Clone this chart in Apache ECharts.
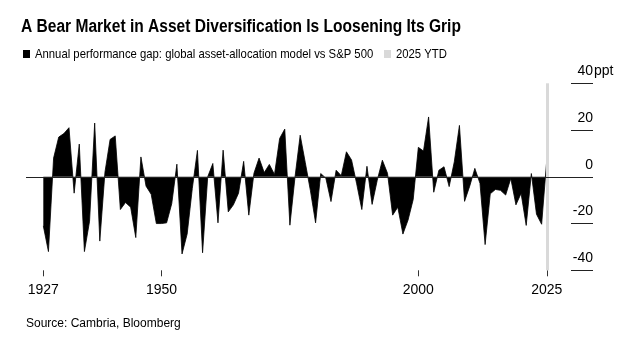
<!DOCTYPE html>
<html>
<head>
<meta charset="utf-8">
<script src="https://cdn.jsdelivr.net/npm/echarts@6/dist/echarts.min.js"></script>
<style>
  html, body { margin: 0; padding: 0; background: #fff; }
  #chart { width: 639px; height: 349px; }
</style>
</head>
<body>
<div id="chart"></div>
<script>
// Annual performance gap (ppt): global asset-allocation model minus S&P 500
const years = [];
for (let y = 1927; y <= 2025; y++) years.push(y);

const gap = [
  -21, -32, 8, 17, 18.5, 21, -7, 14, -32, -19,          // 1927-1936
  23, -27.5, 2, 16, 17.5, -14, -11, -13, -26, 8.5,      // 1937-1946
  -4, -7.5, -20, -20, -19.7, -11.5, 5.4, -33, -24.5, -5, // 1947-1956
  11.3, -32.5, 0, 5.7, -19.7, 11.4, -15, -12, -7, 6.6,  // 1957-1966
  -16.4, 1.5, 8, 1.8, 5.3, 1, 16.4, 20.4, -20.7, 0,     // 1967-1976
  17.8, 6, -6, -19.7, 1.4, -0.6, -10.6, 2.8, 0.5, 10.7, // 1977-1986
  7.2, -3, -14, 4.5, -11.8, -1.5, 7.1, 1.5, -16.4, -13, // 1987-1996
  -24.5, -18.5, -9.7, 12.6, 11, 25.6, -6.6, 2.8, 4.3, -4.2, // 1997-2006
  6.4, 22, -10.5, -4, 3.6, -2.8, -29, -7.3, -5.4, -5.8, // 2007-2016
  -7.8, -0.7, -12, -7.1, -20.8, 1.4, -16, -20.3, 7.1    // 2017-2025
];

const ytdYear = 2025;
const xTickYears = [1927, 1950, 2000, 2025];

const titleText = 'A Bear Market in Asset Diversification Is Loosening Its Grip';
const seriesName = 'Annual performance gap: global asset-allocation model vs S&P 500';
const ytdName = '2025 YTD';
const sourceText = 'Source: Cambria, Bloomberg';
const unitText = 'ppt';

const font = '"Liberation Sans", Arial, sans-serif';
const ink = '#000';
const ytdGrey = '#d9d9d9';
const condensed = 0.87; // horizontal squeeze for the header type

const chart = echarts.init(document.getElementById('chart'), null, { renderer: 'canvas' });

chart.setOption({
  animation: false,
  backgroundColor: '#ffffff',
  graphic: [
    // headline, set in a condensed bold
    {
      type: 'text', x: 21, y: 27, scaleX: 0.864, scaleY: 1,
      style: { text: titleText, fontFamily: font, fontWeight: 'bold', fontSize: 18,
               fill: ink, align: 'left', verticalAlign: 'middle' }
    },
    // key
    { type: 'rect', x: 23, y: 50, shape: { x: 0, y: 0, width: 7, height: 8 }, style: { fill: ink } },
    {
      type: 'text', x: 35, y: 54.5, scaleX: condensed,
      style: { text: seriesName, fontFamily: font, fontSize: 13, fill: ink,
               align: 'left', verticalAlign: 'middle' }
    },
    { type: 'rect', x: 384, y: 50, shape: { x: 0, y: 0, width: 7, height: 8 }, style: { fill: ytdGrey } },
    {
      type: 'text', x: 396, y: 54.5, scaleX: condensed,
      style: { text: ytdName, fontFamily: font, fontSize: 13, fill: ink,
               align: 'left', verticalAlign: 'middle' }
    },
    // unit next to the top tick label
    {
      type: 'text', x: 594, y: 71,
      style: { text: unitText, fontFamily: font, fontSize: 14, fill: ink,
               align: 'left', verticalAlign: 'middle' }
    },
    // source line
    {
      type: 'text', x: 26, y: 324,
      style: { text: sourceText, fontFamily: font, fontSize: 12, fill: ink,
               align: 'left', verticalAlign: 'middle' }
    }
  ],
  grid: { left: 26, right: 46, top: 83.3, bottom: 78.7, containLabel: false },
  xAxis: {
    type: 'value',
    min: 1923.63,
    max: 2034.0,
    splitLine: { show: false },
    axisLine: { show: false, onZero: false },
    axisTick: {
      show: true,
      customValues: xTickYears,
      length: 6,
      lineStyle: { color: '#333', width: 1 }
    },
    axisLabel: {
      customValues: xTickYears,
      margin: 13,
      fontFamily: font,
      fontSize: 14,
      color: ink,
      formatter: v => String(v)
    }
  },
  yAxis: {
    type: 'value',
    position: 'right',
    min: -40,
    max: 40,
    interval: 20,
    splitLine: { show: false },
    axisLine: { show: false },
    axisTick: { show: true, inside: true, length: 22, lineStyle: { color: '#222', width: 1 } },
    axisLabel: {
      inside: true,
      margin: 0,
      align: 'right',
      verticalAlign: 'bottom',
      padding: [0, 0, 5, 0],
      fontFamily: font,
      fontSize: 14,
      color: ink
    }
  },
  series: [{
    name: ytdName,
    type: 'line',
    data: [],
    z: 1,
    itemStyle: { color: ytdGrey },
    markLine: {
      silent: true,
      symbol: 'none',
      label: { show: false },
      lineStyle: { color: ytdGrey, width: 3, type: 'solid' },
      data: [{ xAxis: ytdYear }]
    }
  }, {
    name: seriesName,
    type: 'line',
    z: 3,
    data: years.map((y, i) => [y, gap[i]]),
    showSymbol: false,
    symbol: 'none',
    itemStyle: { color: ink },
    lineStyle: { color: ink, width: 0.8 },
    areaStyle: { color: ink, opacity: 1, origin: 0 },
    markLine: {
      silent: true,
      symbol: 'none',
      label: { show: false },
      lineStyle: { color: '#222', width: 1, type: 'solid' },
      data: [{ yAxis: 0 }]
    }
  }]
});
</script>
</body>
</html>
